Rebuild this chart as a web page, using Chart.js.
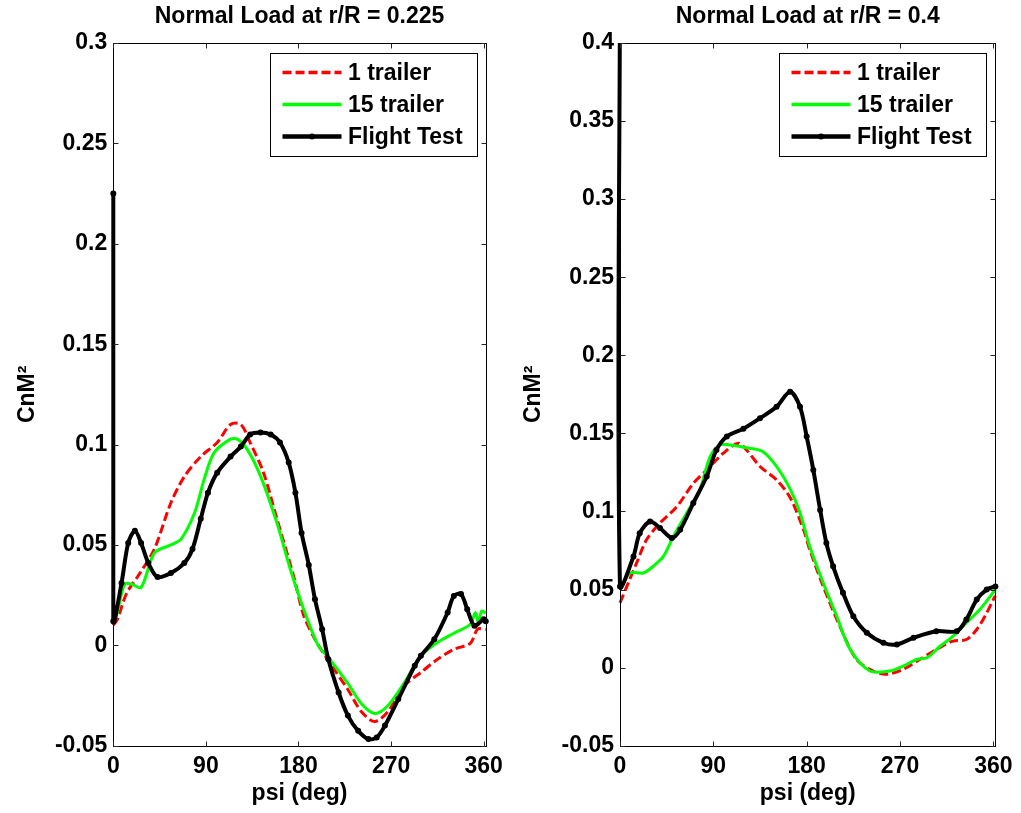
<!DOCTYPE html>
<html>
<head>
<meta charset="utf-8">
<script src="https://cdn.jsdelivr.net/npm/chart.js@4.4.1/dist/chart.umd.min.js"></script>
<style>
  html, body { margin: 0; padding: 0; background: #ffffff; }
  body { width: 1021px; height: 813px; position: relative; overflow: hidden; }
  .panel { position: absolute; top: 0; height: 813px; }
  #p1 { left: 0; width: 510px; }
  #p2 { left: 510px; width: 511px; }
  canvas { display: block; }
</style>
</head>
<body>
<div class="panel" id="p1"><canvas id="c1" width="510" height="813"></canvas></div>
<div class="panel" id="p2"><canvas id="c2" width="511" height="813"></canvas></div>
<script>
// ---------------- DATA ----------------
const SERIES_NAMES = ['1 trailer', '15 trailer', 'Flight Test'];
const TITLES = ['Normal Load at r/R = 0.225', 'Normal Load at r/R = 0.4'];
const X_TITLE = 'psi (deg)';
const Y_TITLE = 'CnM\u00B2';

const X_TICKS = [0, 90, 180, 270, 360];
const X_TICK_LABELS = ['0', '90', '180', '270', '360'];
const Y_TICKS_LEFT = [-0.05, 0, 0.05, 0.1, 0.15, 0.2, 0.25, 0.3];
const Y_TICK_LABELS_LEFT = ['-0.05', '0', '0.05', '0.1', '0.15', '0.2', '0.25', '0.3'];
const Y_TICKS_RIGHT = [-0.05, 0, 0.05, 0.1, 0.15, 0.2, 0.25, 0.3, 0.35, 0.4];
const Y_TICK_LABELS_RIGHT = ['-0.05', '0', '0.05', '0.1', '0.15', '0.2', '0.25', '0.3', '0.35', '0.4'];

// r/R = 0.225
const L_TRAIL1_PSI = [0, 4, 13, 26, 40, 56, 69, 85, 101, 114, 124, 133, 146, 159, 175, 185, 196, 212, 228, 241, 254, 267, 283, 299, 315, 331, 347, 354, 362];
const L_TRAIL1_VAL = [0.010, 0.013, 0.026, 0.036, 0.048, 0.071, 0.084, 0.094, 0.101, 0.110, 0.110, 0.101, 0.086, 0.063, 0.035, 0.015, 0.003, -0.010, -0.022, -0.033, -0.038, -0.033, -0.020, -0.0135, -0.007, -0.002, 0.001, 0.008, 0.008];

const L_TRAIL15_PSI = [0, 3, 11, 17.5, 27, 40, 56, 66, 79, 88.5, 98, 114, 120.6, 130, 143, 159, 172, 185, 199, 209, 228, 241, 254, 267, 283, 299, 315, 331, 347, 352, 355, 358, 362];
const L_TRAIL15_VAL = [0.012, 0.0147, 0.0305, 0.0305, 0.0288, 0.046, 0.050, 0.053, 0.066, 0.083, 0.096, 0.1027, 0.1027, 0.0977, 0.0844, 0.061, 0.038, 0.018, 0.0, -0.006, -0.019, -0.029, -0.034, -0.030, -0.0185, -0.0052, 0.0014, 0.006, 0.0105, 0.0164, 0.011, 0.017, 0.016];

const L_FLIGHT_PSI = [0, 0, 8, 14.5, 21, 27, 34, 43, 56, 69, 77, 85, 92, 101, 114, 124, 133, 143, 153, 162, 170.5, 177, 183, 190, 196, 203, 209, 219, 228, 238, 248, 256, 264, 277, 293, 299, 312, 325, 331, 338, 344, 351, 360, 362];
const L_FLIGHT_VAL = [0.225, 0.012, 0.031, 0.051, 0.057, 0.051, 0.041, 0.034, 0.036, 0.041, 0.048, 0.063, 0.076, 0.086, 0.094, 0.099, 0.105, 0.106, 0.105, 0.101, 0.091, 0.076, 0.056, 0.040, 0.023, 0.008, -0.007, -0.0235, -0.035, -0.0426, -0.0467, -0.0459, -0.040, -0.0268, -0.0102, -0.0052, 0.003, 0.0164, 0.0246, 0.0255, 0.018, 0.0097, 0.013, 0.012];

// r/R = 0.4
const R_TRAIL1_PSI = [0, 8, 16, 25.7, 38.6, 54.7, 70.7, 83.6, 99.6, 114, 122, 135, 151, 164, 177, 183, 196, 212, 228, 244, 257, 273, 289, 305, 321, 334, 344, 353.6, 360, 362];
const R_TRAIL1_VAL = [0.0415, 0.0543, 0.067, 0.082, 0.0926, 0.103, 0.118, 0.1266, 0.1373, 0.1437, 0.1394, 0.1288, 0.1202, 0.109, 0.0883, 0.0755, 0.052, 0.0265, 0.0052, -0.0022, -0.0043, -0.0011, 0.0052, 0.0116, 0.017, 0.018, 0.0244, 0.035, 0.0436, 0.046];

const R_TRAIL15_PSI = [0, 9.6, 22.5, 32, 41.8, 51.4, 64.3, 77, 86.8, 96.4, 106, 125, 138, 151, 164, 173.6, 183, 196, 209, 222, 241, 260, 273, 286, 296, 308.6, 321, 334, 347, 362];
const R_TRAIL15_VAL = [0.050, 0.0606, 0.0606, 0.0649, 0.0712, 0.084, 0.099, 0.1139, 0.135, 0.1426, 0.1426, 0.1405, 0.1383, 0.1288, 0.1145, 0.099, 0.0776, 0.0542, 0.0329, 0.0116, -0.0022, -0.0022, 0.001, 0.0052, 0.0063, 0.0137, 0.020, 0.0287, 0.0372, 0.050];

const R_FLIGHT_PSI = [0, 0, 13, 19, 29, 38.6, 50, 58, 70.7, 83.6, 93, 103, 119, 135, 151, 164, 173.6, 180, 186.4, 193, 199, 205.5, 215, 225, 238, 254, 267, 283, 305, 324.7, 334, 344, 353.6, 362];
const R_FLIGHT_VAL = [0.45, 0.052, 0.0712, 0.086, 0.0936, 0.0894, 0.083, 0.0883, 0.1054, 0.1224, 0.1394, 0.148, 0.153, 0.1597, 0.167, 0.1767, 0.167, 0.148, 0.1266, 0.101, 0.0798, 0.0649, 0.0479, 0.0329, 0.0223, 0.0159, 0.0148, 0.0191, 0.0233, 0.0233, 0.0308, 0.0436, 0.050, 0.052];

// ---------------- CHART ----------------
const FONT_FAMILY = "'Liberation Sans', Arial, Helvetica, sans-serif";
const bold23 = { family: FONT_FAMILY, size: 23, weight: 'bold' };

function pts(xs, ys) { return xs.map((x, i) => ({ x: x, y: ys[i] })); }

const framePlugin = {
  id: 'matlabFrame',
  afterDatasetsDraw(chart) {
    const { ctx, chartArea: a, scales: { x, y } } = chart;
    ctx.save();
    ctx.strokeStyle = '#000';
    ctx.lineWidth = 1;
    ctx.setLineDash([]);
    const L = Math.round(a.left) + 0.5, T = Math.round(a.top) + 0.5;
    const R = Math.round(a.right) + 0.5, B = Math.round(a.bottom) + 0.5;
    ctx.strokeRect(L, T, R - L, B - T);
    ctx.strokeStyle = '#262626';
    ctx.beginPath();
    x.ticks.forEach(t => {
      const px = Math.round(x.getPixelForValue(t.value)) + 0.5;
      ctx.moveTo(px, B); ctx.lineTo(px, B - 5);
      ctx.moveTo(px, T); ctx.lineTo(px, T + 5);
    });
    y.ticks.forEach(t => {
      const py = Math.round(y.getPixelForValue(t.value)) + 0.5;
      ctx.moveTo(L, py); ctx.lineTo(L + 5, py);
      ctx.moveTo(R, py); ctx.lineTo(R - 5, py);
    });
    ctx.stroke();

    // legend box
    const w = 207, h = 103;
    const bx = Math.round(a.right - 9 - w) + 0.5;
    const by = Math.round(a.top + 10) + 0.5;
    ctx.fillStyle = '#fff';
    ctx.fillRect(bx, by, w, h);
    ctx.strokeStyle = '#000';
    ctx.lineWidth = 1;
    ctx.strokeRect(bx, by, w, h);
    const rows = [19, 51, 83];
    ctx.font = 'bold 23px ' + FONT_FAMILY;
    ctx.textBaseline = 'middle';
    ctx.textAlign = 'left';
    chart.data.datasets.forEach((ds, i) => {
      const yy = by + rows[i];
      ctx.save();
      ctx.strokeStyle = ds.borderColor;
      ctx.lineWidth = ds.borderWidth + 0.5;
      ctx.setLineDash(ds.borderDash || []);
      ctx.beginPath();
      ctx.moveTo(bx + 12, yy);
      ctx.lineTo(bx + 71, yy);
      ctx.stroke();
      if (ds.pointRadius > 0) {
        ctx.fillStyle = ds.pointBackgroundColor;
        ctx.beginPath();
        ctx.arc(bx + 41.5, yy, ds.pointRadius, 0, Math.PI * 2);
        ctx.fill();
      }
      ctx.restore();
      ctx.fillStyle = '#000';
      ctx.fillText(ds.label, bx + 77.5, yy + 1.5);
    });
    ctx.restore();
  }
};

function makeChart(canvasId, title, d1, d15, dF, yTicks, yLabels, yMin, yMax, yAxisW, yTitlePad, rightPad) {
  const ctx = document.getElementById(canvasId);
  const clipBox = { left: 6, top: 0, right: 6, bottom: 6 };
  return new Chart(ctx, {
    type: 'line',
    data: {
      datasets: [
        { label: SERIES_NAMES[0], data: d1, borderColor: '#ff0000', borderWidth: 3, borderDash: [9, 4],
          pointRadius: 0, tension: 0.3, order: 2, fill: false, clip: clipBox },
        { label: SERIES_NAMES[1], data: d15, borderColor: '#00ff00', borderWidth: 3,
          pointRadius: 0, tension: 0.3, order: 1, fill: false, clip: clipBox },
        { label: SERIES_NAMES[2], data: dF, borderColor: '#000000', borderWidth: 4,
          pointRadius: 3, pointBackgroundColor: '#000000', pointBorderWidth: 0,
          tension: 0.3, order: 0, fill: false, clip: clipBox }
      ]
    },
    options: {
      responsive: false,
      animation: false,
      devicePixelRatio: 1,
      layout: { padding: { left: 0, top: 0, bottom: 0, right: rightPad } },
      plugins: {
        legend: { display: false },
        tooltip: { enabled: false },
        title: {
          display: true, text: title, color: '#000', font: bold23, fullSize: false,
          padding: { top: 3, bottom: 12.4 }
        }
      },
      scales: {
        x: {
          type: 'linear', min: 0, max: 362,
          grid: { display: false, drawTicks: false },
          border: { display: false },
          afterBuildTicks: s => { s.ticks = X_TICKS.map(v => ({ value: v })); },
          afterFit: s => { s.height = 67.3; },
          ticks: { color: '#000', font: bold23, padding: 7, maxRotation: 0, autoSkip: false,
                   callback: (v, i) => X_TICK_LABELS[i] },
          title: { display: true, text: X_TITLE, color: '#000', font: bold23, padding: { top: 0, bottom: 6 } }
        },
        y: {
          type: 'linear', min: yMin, max: yMax,
          grid: { display: false, drawTicks: false },
          border: { display: false },
          afterBuildTicks: s => { s.ticks = yTicks.map(v => ({ value: v })); },
          afterFit: s => { s.width = yAxisW; },
          ticks: { color: '#000', font: bold23, padding: 6, autoSkip: false,
                   callback: (v, i) => yLabels[i] },
          title: { display: true, text: Y_TITLE, color: '#000', font: bold23, padding: { top: yTitlePad, bottom: 0 } }
        }
      }
    },
    plugins: [framePlugin]
  });
}

makeChart('c1', TITLES[0],
  pts(L_TRAIL1_PSI, L_TRAIL1_VAL), pts(L_TRAIL15_PSI, L_TRAIL15_VAL), pts(L_FLIGHT_PSI, L_FLIGHT_VAL),
  Y_TICKS_LEFT, Y_TICK_LABELS_LEFT, -0.05, 0.3, 113.3, 13.7, 22.9);

makeChart('c2', TITLES[1],
  pts(R_TRAIL1_PSI, R_TRAIL1_VAL), pts(R_TRAIL15_PSI, R_TRAIL15_VAL), pts(R_FLIGHT_PSI, R_FLIGHT_VAL),
  Y_TICKS_RIGHT, Y_TICK_LABELS_RIGHT, -0.05, 0.4, 110, 10.2, 25.6);
</script>
</body>
</html>
